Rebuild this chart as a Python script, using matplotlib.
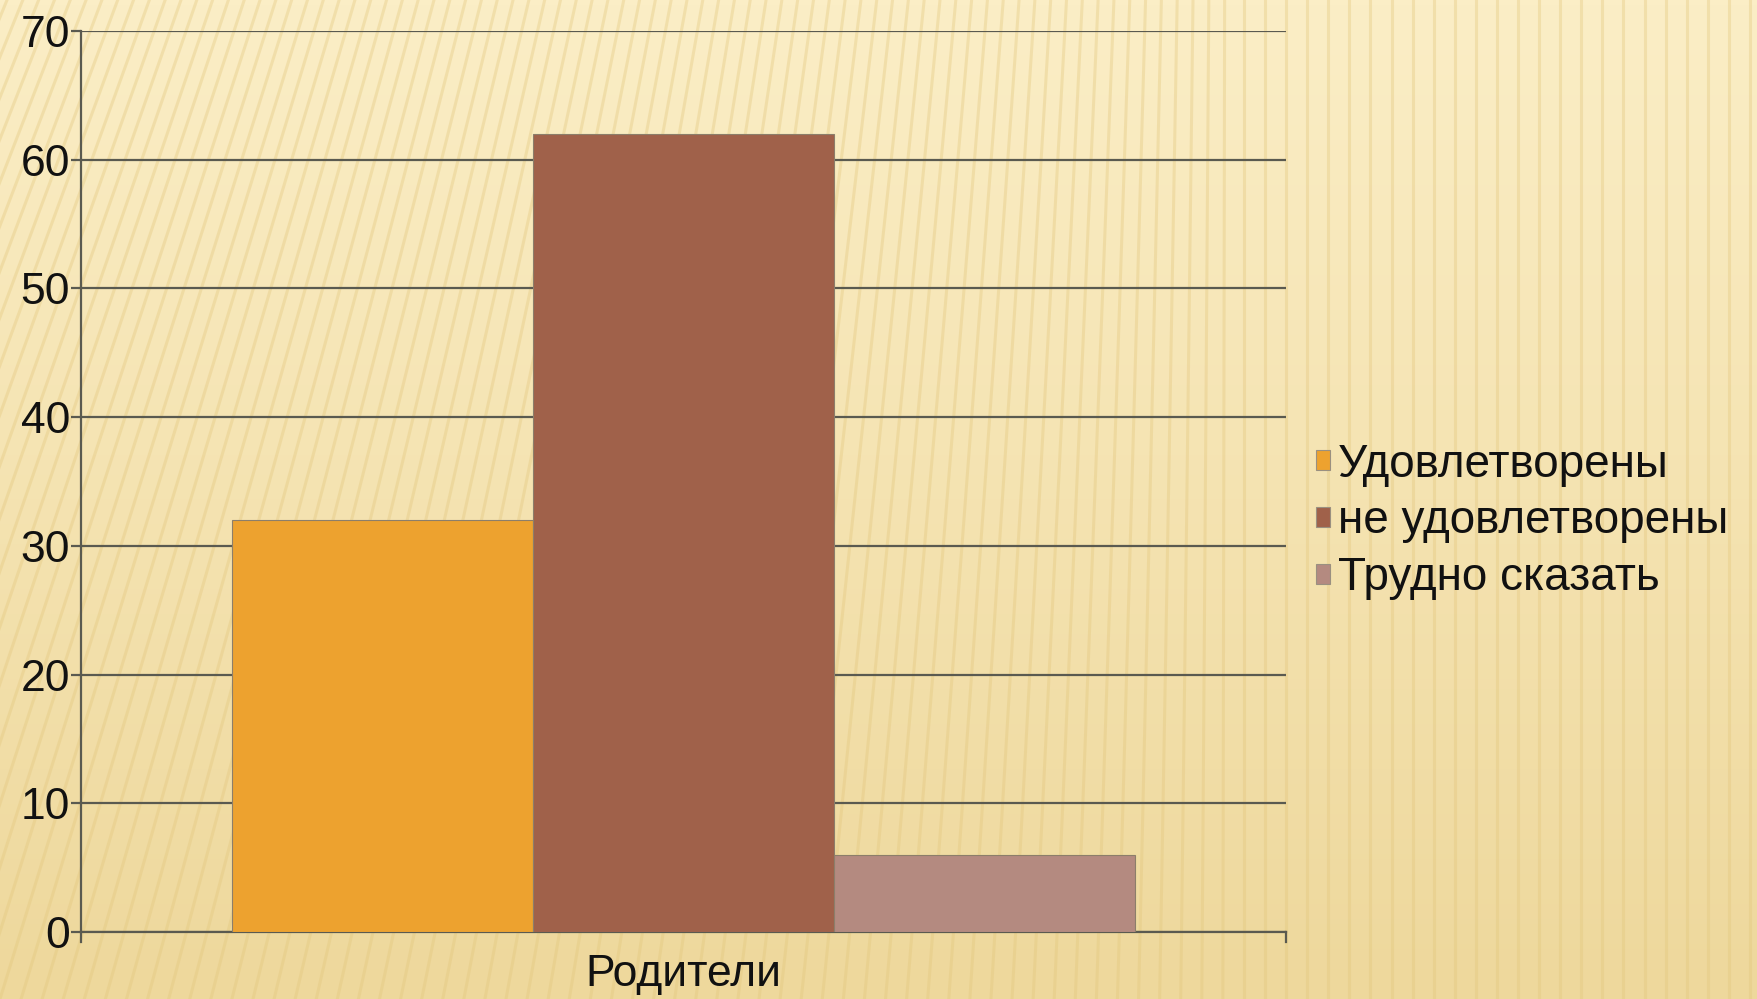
import numpy as np
import matplotlib.pyplot as plt

plt.rcParams['font.family'] = ['Liberation Sans', 'DejaVu Sans']

category = 'Родители'
labels = ['Удовлетворены', 'не удовлетворены', 'Трудно сказать']
values = [32, 62, 6]
colors = ['#EDA22F', '#A0614A', '#B48A80']

fig = plt.figure(figsize=(17.57, 9.99), dpi=100)
fig.patch.set_facecolor('#F8E7B6')

# background: warm gradient with faint stripes
bg = fig.add_axes([0, 0, 1, 1], zorder=-10)
grad = np.linspace(0, 1, 200)[:, None] * np.ones((1, 300))
bg.imshow(grad, cmap=plt.matplotlib.colors.LinearSegmentedColormap.from_list(
    'bgc', ['#FBEEC6', '#EED89C']), aspect='auto', extent=[0, 1, 0, 1],
    origin='upper')
for x0 in np.arange(-0.3, 1.05, 0.012):
    slant = 0.25 * max(0.0, 1 - (x0 + 0.3) / 1.0)
    bg.plot([x0, x0 + slant], [0, 1], color='#E2C57A', lw=2.2, alpha=0.35)
bg.set_xlim(0, 1)
bg.set_ylim(0, 1)
bg.axis('off')

ax = fig.add_axes([81 / 1757, 1 - 932 / 999, 1205 / 1757, 901 / 999])
ax.set_facecolor('none')

width = 0.25
offsets = (np.arange(len(values)) - 1) * width
for off, v, c, lab in zip(offsets, values, colors, labels):
    ax.bar(off, v, width=width, color=c, edgecolor='#8C7E6A', linewidth=0.8,
           label=lab, zorder=3)

ax.set_xlim(-0.5, 0.5)
ax.set_ylim(0, 70)
ax.set_yticks(np.arange(0, 71, 10))
ax.set_xticks([0])
ax.set_xticklabels([category])
ax.yaxis.grid(True, color='#5A5A50', linewidth=1.6, zorder=1)
ax.set_axisbelow(True)

for s in ['top', 'right']:
    ax.spines[s].set_visible(False)
ax.spines['left'].set_color('#5A5A50')
ax.spines['left'].set_linewidth(1.6)
ax.spines['bottom'].set_color('#5A5A50')
ax.spines['bottom'].set_linewidth(1.6)

ax.tick_params(axis='y', length=7, width=1.6, color='#5A5A50', pad=1,
               labelsize=32, labelcolor='#111111')
ax.tick_params(axis='x', length=0, pad=16, labelsize=32, labelcolor='#111111')

# small end ticks on the category axis
for xe in [-0.5, 0.5]:
    ax.plot([xe, xe], [0, -0.8], color='#5A5A50', lw=1.6, clip_on=False)

leg = fig.legend(loc='center left', bbox_to_anchor=(0.749, 0.478),
                 frameon=False, fontsize=33, handlelength=0.3,
                 handleheight=0.3, handletextpad=0.18, labelspacing=0.28,
                 borderpad=0, borderaxespad=0)
for t in leg.get_texts():
    t.set_color('#111111')
for h in leg.legend_handles:
    h.set_edgecolor('#9A9080')

fig.savefig('out.png', dpi=100, facecolor=fig.get_facecolor())
